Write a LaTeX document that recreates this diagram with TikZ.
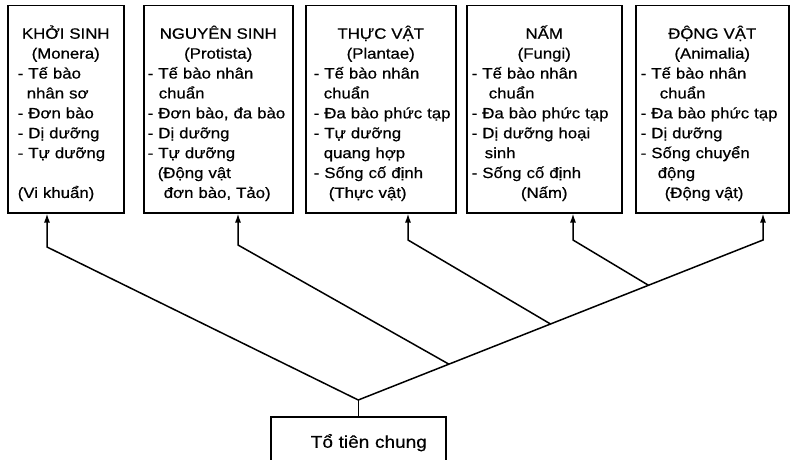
\documentclass[tikz,border=0pt]{standalone}
\usepackage{fontspec}
\setmainfont[FakeStretch=1.12,FakeBold=0.6]{Liberation Sans}
\usetikzlibrary{arrows.meta,calc}
\newcommand\ttl[1]{\hspace*{-\leftskip}\makebox[\linewidth][c]{#1}}
\newcommand\ind[1]{\hspace*{#1pt}}
\begin{document}
\begin{tikzpicture}[x=1pt,y=-1pt,
  kbox/.style={draw, line width=1.5pt, anchor=north west, inner sep=0pt,
    align=left, font=\fontsize{15}{19.9}\selectfont,
    text height=33pt, text depth=174pt},
  rootbox/.style={draw, line width=1.5pt, anchor=north west, inner sep=0pt,
    align=left, font=\fontsize{17}{20}\selectfont,
    text width=175pt, text height=31pt, text depth=16pt},
  link/.style={line width=1.5pt, line join=miter},
  arr/.style={link, -{Latex[length=9pt,width=6pt]}}]
\useasboundingbox (0,0) rectangle (793,460);
\clip (0,0) rectangle (793,460);

\node[kbox, text width=116pt] (b1) at (7,5) {\setlength\leftskip{10pt}%
\ttl{KHỞI SINH}\\
\ttl{(Monera)}\\
- Tế bào\\
\ind{9}nhân sơ\\
- Đơn bào\\
- Dị dưỡng\\
- Tự dưỡng\\
\mbox{}\\
(Vi khuẩn)\par};

\node[kbox, text width=149pt] (b2) at (143,5) {\setlength\leftskip{4pt}%
\ttl{NGUYÊN SINH}\\
\ttl{(Protista)}\\
- Tế bào nhân\\
\ind{11}chuẩn\\
- Đơn bào, đa bào\\
- Dị dưỡng\\
- Tự dưỡng\\
\ind{10}(Động vật\\
\ind{16}đơn bào, Tảo)\par};

\node[kbox, text width=150pt] (b3) at (305,5) {\setlength\leftskip{8pt}%
\ttl{THỰC VẬT}\\
\ttl{(Plantae)}\\
- Tế bào nhân\\
\ind{10}chuẩn\\
- Đa bào phức tạp\\
- Tự dưỡng\\
\ind{10}quang hợp\\
- Sống cố định\\
\ind{15}(Thực vật)\par};

\node[kbox, text width=155pt] (b4) at (466,5) {\setlength\leftskip{5pt}%
\ttl{NẤM}\\
\ttl{(Fungi)}\\
- Tế bào nhân\\
\ind{17}chuẩn\\
- Đa bào phức tạp\\
- Dị dưỡng hoại\\
\ind{13}sinh\\
- Sống cố định\\
\ttl{(Nấm)}\par};

\node[kbox, text width=153pt] (b5) at (635,5) {\setlength\leftskip{5pt}%
\ttl{ĐỘNG VẬT}\\
\ttl{(Animalia)}\\
- Tế bào nhân\\
\ind{19}chuẩn\\
- Đa bào phức tạp\\
- Dị dưỡng\\
- Sống chuyển\\
\ind{17}động\\
\ind{24}(Động vật)\par};

\node[rootbox] (root) at (270,416) {\setlength\leftskip{40pt}Tổ tiên chung\par};

\coordinate (j1) at ($(root.north)+(0,-16)$);
\coordinate (e1) at (47,247);
\coordinate (e2) at (238,245);
\coordinate (e3) at (408,240);
\coordinate (e4) at (573,240);
\coordinate (e5) at (763,240);
\coordinate (j2) at ($(j1)!0.224!(e5)$);
\coordinate (j3) at ($(j1)!0.475!(e5)$);
\coordinate (j4) at ($(j1)!0.717!(e5)$);

\draw[link] (root.north) -- (j1);
\draw[arr] (j1) -- (e5) -- (e5 |- b5.south);
\draw[arr] (j1) -- (e1) -- (e1 |- b1.south);
\draw[arr] (j2) -- (e2) -- (e2 |- b2.south);
\draw[arr] (j3) -- (e3) -- (e3 |- b3.south);
\draw[arr] (j4) -- (e4) -- (e4 |- b4.south);
\end{tikzpicture}
\end{document}
